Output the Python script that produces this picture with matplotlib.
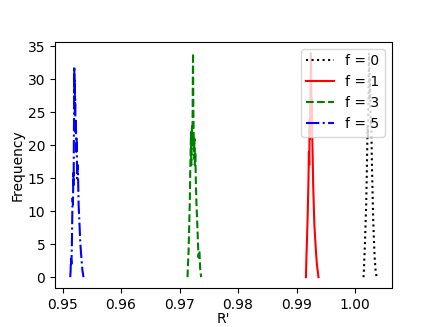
import numpy as np
import matplotlib
matplotlib.use('Agg')
import matplotlib.pyplot as plt

# f = 0 (black)
x_f0 = [1.00145, 1.00152, 1.00160, 1.00170, 1.00180, 1.00191, 1.00200, 1.00208, 1.00215,
        1.00222, 1.00228, 1.00234, 1.00240, 1.00246, 1.00252, 1.00258, 1.00264, 1.00270,
        1.00277, 1.00284, 1.00292, 1.00300, 1.00310, 1.00322, 1.00336, 1.00352, 1.00370]
y_f0 = [0, 1, 3, 5, 8, 11, 15, 19, 23, 21, 26, 29, 34, 31, 27, 30, 25, 23, 24, 20, 16, 13, 9, 6, 3, 1, 0]

# f = 1 (red)
x_f1 = [0.99161, 0.99170, 0.99180, 0.99190, 0.99198, 0.99205, 0.99212, 0.99218, 0.99224,
        0.99230, 0.99236, 0.99241, 0.99246, 0.99252, 0.99258, 0.99264, 0.99270, 0.99277,
        0.99285, 0.99295, 0.99305, 0.99318, 0.99332, 0.99348, 0.99362, 0.99376]
y_f1 = [0, 3, 6, 9, 12, 15, 19, 17, 24, 21, 27, 30, 34, 29, 25, 27, 21, 18, 14, 11, 8, 6, 4, 2, 1, 0]

# f = 3 (green)
x_f3 = [0.97137, 0.97145, 0.97155, 0.97166, 0.97175, 0.97183, 0.97190, 0.97196, 0.97202,
        0.97208, 0.97214, 0.97220, 0.97226, 0.97231, 0.97236, 0.97242, 0.97248, 0.97255,
        0.97262, 0.97270, 0.97280, 0.97290, 0.97300, 0.97312, 0.97325, 0.97340, 0.97355, 0.97371]
y_f3 = [0, 2, 4, 8, 11, 16, 19, 22, 17, 21, 23, 20, 28, 34, 26, 22, 18, 21, 17, 19, 14, 11, 9, 6, 3, 4, 1, 0]

# f = 5 (blue)
x_f5 = [0.95132, 0.95138, 0.95145, 0.95152, 0.95160, 0.95166, 0.95172, 0.95178, 0.95185,
        0.95190, 0.95194, 0.95198, 0.95201, 0.95204, 0.95208, 0.95212, 0.95217, 0.95222,
        0.95228, 0.95235, 0.95242, 0.95250, 0.95262, 0.95275, 0.95290, 0.95305, 0.95322,
        0.95340, 0.95359]
y_f5 = [0, 1, 3, 2, 5, 9, 12, 11, 16, 14, 21, 26, 32, 28, 30, 25, 27, 22, 24, 19, 21, 15, 17, 11, 8, 5, 3, 1, 0]

fig = plt.figure(figsize=(4.36, 3.27), dpi=100)
plt.subplots_adjust(left=0.126, right=0.899, top=0.872, bottom=0.118)
plt.plot(x_f0, y_f0, 'k:', label='f = 0')
plt.plot(x_f1, y_f1, 'r-', label='f = 1')
plt.plot(x_f3, y_f3, 'g--', label='f = 3')
plt.plot(x_f5, y_f5, 'b-.', label='f = 5')
plt.xlabel("R'", labelpad=0)
plt.ylabel('Frequency', labelpad=2)
plt.legend(loc='upper right')
plt.savefig('out.png', dpi=100)
